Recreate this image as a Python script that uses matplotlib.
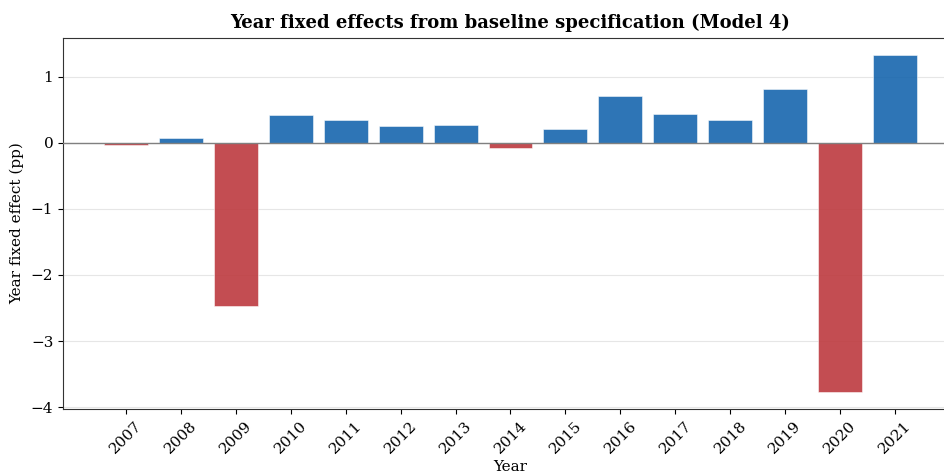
import matplotlib
matplotlib.use('Agg')
import matplotlib.pyplot as plt
import numpy as np

years = ['2007', '2008', '2009', '2010', '2011', '2012', '2013', '2014',
         '2015', '2016', '2017', '2018', '2019', '2020', '2021']
effects = [-0.03, 0.08, -2.47, 0.42, 0.35, 0.26, 0.27, -0.08,
           0.21, 0.71, 0.44, 0.35, 0.82, -3.77, 1.33]

plt.rcParams['font.family'] = 'DejaVu Serif'

fig = plt.figure(figsize=(9.45, 4.73), dpi=100)
# axes runs a little past the right edge, as in the reference
ax = fig.add_axes([63 / 945, 64 / 473, 895 / 945, 371 / 473])

x = np.arange(len(years))
colors = ['#1766AE' if v >= 0 else '#BD3A3F' for v in effects]
ax.bar(x, effects, 0.8, color=colors, alpha=0.9, edgecolor='white', linewidth=0.4, zorder=2)
ax.axhline(0, color='gray', linewidth=1.0, zorder=3)

ax.set_xticks(x)
ax.set_xticklabels(years, rotation=45, fontsize=11)
ax.set_yticks([-4, -3, -2, -1, 0, 1])
ax.tick_params(axis='y', labelsize=11)
ax.set_ylim(-4.03, 1.59)
ax.yaxis.grid(True, color='#e6e6e6', linewidth=0.8, zorder=0)
ax.set_axisbelow(True)

for s in ax.spines.values():
    s.set_color('#333333')

ax.set_xlabel('Year', fontsize=11, labelpad=3)
ax.set_ylabel('Year fixed effect (pp)', fontsize=11, labelpad=5)
ax.set_title('Year fixed effects from baseline specification (Model 4)',
             fontsize=13, fontweight='bold', pad=7)

plt.savefig('out.png', dpi=100)
